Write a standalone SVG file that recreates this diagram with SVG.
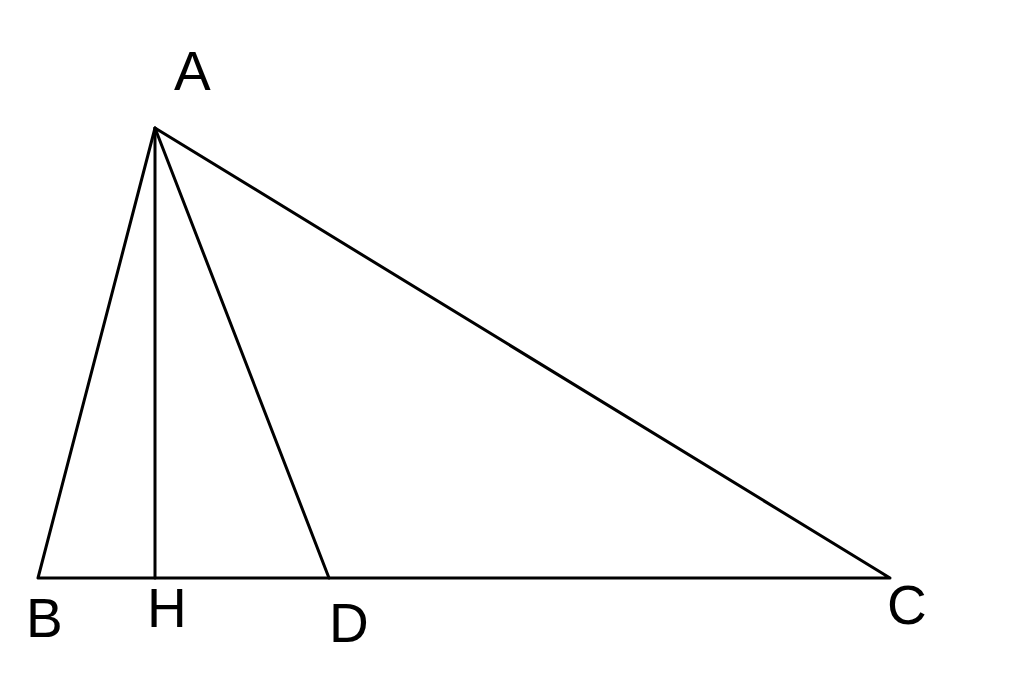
<svg xmlns="http://www.w3.org/2000/svg" width="1024" height="697" viewBox="0 0 1024 697">
<style>
.l{stroke:#000;stroke-width:3;fill:none;stroke-linecap:round;stroke-linejoin:round}
.t{font-family:"Liberation Sans",Arial,sans-serif;font-size:55px;fill:#000}
</style>
<rect width="1024" height="697" fill="#fff"/>
<g id="connectors">
<path class="l" d="M155,128 L38,578 L890,578 Z"/>
<line class="l" x1="155" y1="128" x2="155" y2="578"/>
<line class="l" x1="155" y1="128" x2="329" y2="578"/>
</g>
<g id="A"><text class="t" x="174" y="90">A</text></g>
<g id="B"><text class="t" x="26" y="637">B</text></g>
<g id="H"><text class="t" x="147" y="627">H</text></g>
<g id="D"><text class="t" x="329" y="642">D</text></g>
<g id="C"><text class="t" x="887" y="624">C</text></g>
</svg>
